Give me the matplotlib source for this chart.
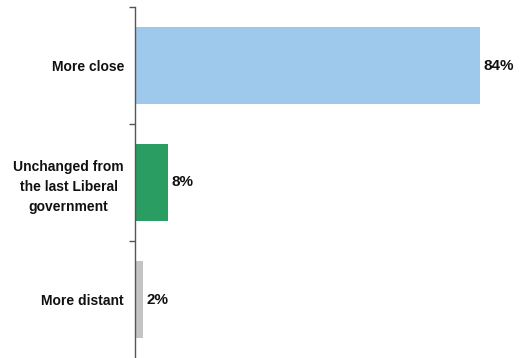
import numpy as np
import matplotlib.pyplot as plt

categories = ['More close', 'Unchanged from\nthe last Liberal\ngovernment', 'More distant']
values = [84, 8, 2]
colors = ['#9fc9ec', '#2a9d62', '#c4c4c4']

plt.rcParams['font.family'] = ['Liberation Sans', 'DejaVu Sans']

fig = plt.figure(figsize=(5.2, 3.58), dpi=100)
ax = fig.add_axes([135 / 520, 0, 385 / 520, 351 / 358])

y = np.arange(len(categories))
ax.barh(y, values, height=0.66, color=colors)
for yi, v in zip(y, values):
    ax.text(v + 0.9, yi, f'{v}%', va='center', ha='left', fontsize=11, fontweight='bold', color='#111111')

ax.set_ylim(2.5, -0.5)
ax.set_xlim(0, 93.7)
ax.set_yticks(y)
ax.set_yticklabels(categories, fontsize=10, fontweight='bold', color='#111111',
                   linespacing=1.55, multialignment='center')
ax.tick_params(axis='y', which='major', length=0, pad=8)
ax.set_yticks([-0.5, 0.5, 1.5], minor=True)
ax.tick_params(axis='y', which='minor', length=4, width=1, color='#555555')
ax.xaxis.set_visible(False)
for s in ['top', 'right', 'bottom']:
    ax.spines[s].set_visible(False)
ax.spines['left'].set_color('#555555')
ax.spines['left'].set_linewidth(1)

fig.savefig('out.png', dpi=100)
